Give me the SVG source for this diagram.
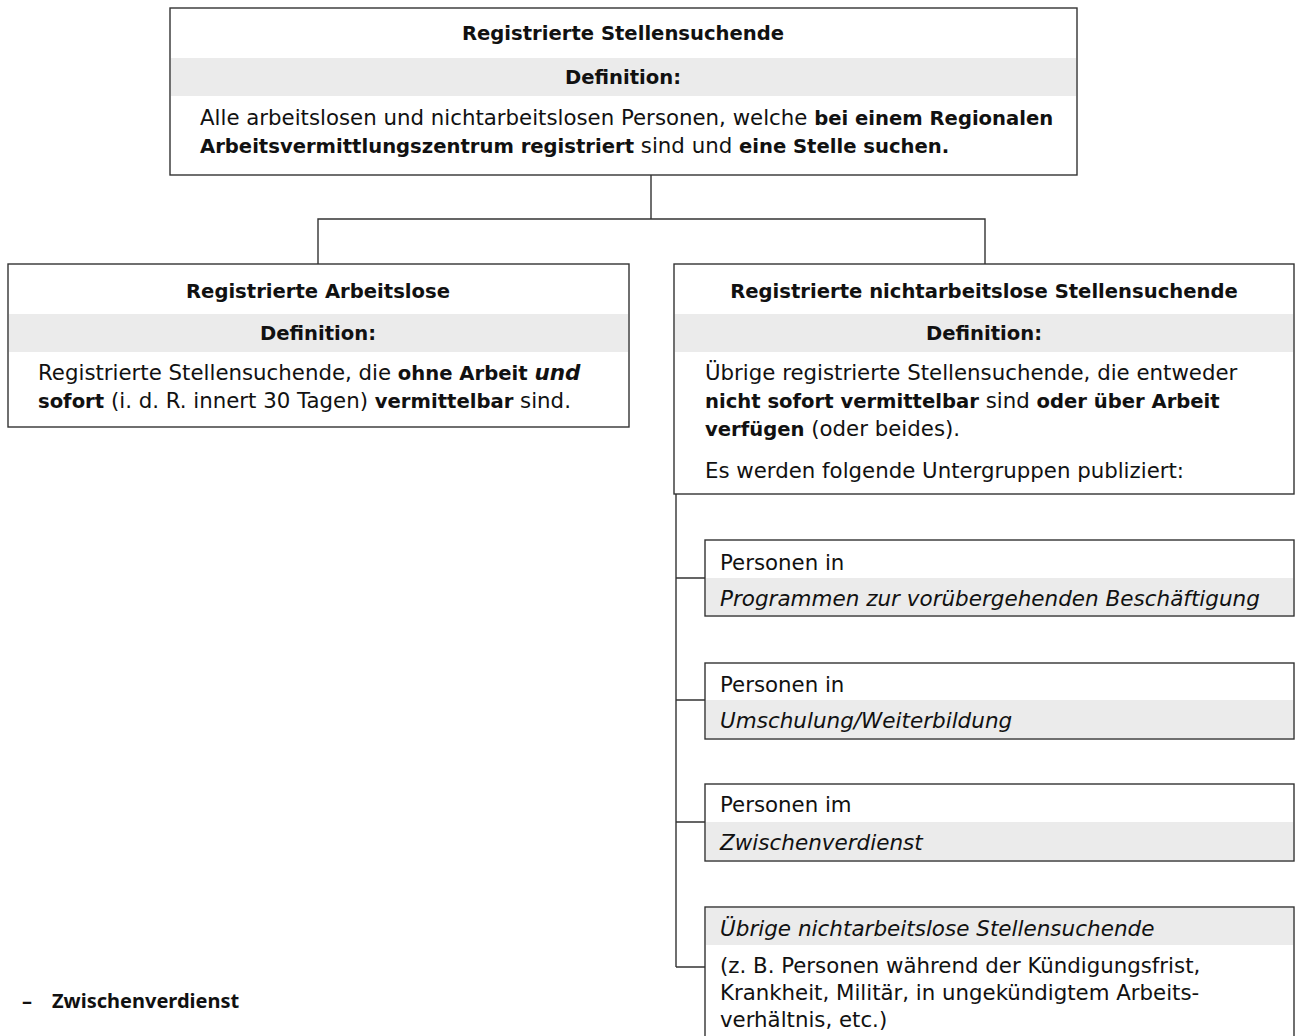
<svg xmlns="http://www.w3.org/2000/svg" width="1300" height="1036" viewBox="0 0 1300 1036">
<style>
text{font-family:"DejaVu Sans","Noto Sans",sans-serif;font-size:21.3px;fill:#111}
.b{font-weight:bold;font-size:19.6px}
.i{font-style:italic;font-size:21.5px}
.c{text-anchor:middle}
.n{font-family:"Noto Sans","Liberation Sans",sans-serif;font-size:20px}
.box{fill:#fff;stroke:#333;stroke-width:1.4}
.band{fill:#ebebeb}
.ln{fill:none;stroke:#333;stroke-width:1.4}
</style>
<rect width="1300" height="1036" fill="#fff"/>
<g id="connectors">
<path class="ln" d="M651,175V219M318,264V219H985V264"/>
<path class="ln" d="M676,494V967M676,578H705M676,700H705M676,822H705M676,967H705"/>
</g>
<g id="top">
<rect class="box" x="170" y="8" width="907" height="167"/>
<rect class="band" x="171" y="58" width="905" height="38"/>
<text class="b c" x="623" y="40">Registrierte Stellensuchende</text>
<text class="b c" x="623" y="84">Definition:</text>
<text x="200" y="125">Alle arbeitslosen und nichtarbeitslosen Personen, welche <tspan class="b">bei einem Regionalen</tspan></text>
<text x="200" y="153"><tspan class="b">Arbeitsvermittlungszentrum registriert</tspan> sind und <tspan class="b">eine Stelle suchen.</tspan></text>
</g>
<g id="left">
<rect class="box" x="8" y="264" width="621" height="163"/>
<rect class="band" x="9" y="314" width="619" height="38"/>
<text class="b c" x="318" y="298">Registrierte Arbeitslose</text>
<text class="b c" x="318" y="340">Definition:</text>
<text x="38" y="380">Registrierte Stellensuchende, die <tspan class="b">ohne Arbeit <tspan class="i">und</tspan></tspan></text>
<text x="38" y="408"><tspan class="b">sofort</tspan> (i. d. R. innert 30 Tagen) <tspan class="b">vermittelbar</tspan> sind.</text>
</g>
<g id="right">
<rect class="box" x="674" y="264" width="620" height="230"/>
<rect class="band" x="675" y="314" width="618" height="38"/>
<text class="b c" x="984" y="298">Registrierte nichtarbeitslose Stellensuchende</text>
<text class="b c" x="984" y="340">Definition:</text>
<text x="705" y="380">Übrige registrierte Stellensuchende, die entweder</text>
<text x="705" y="408"><tspan class="b">nicht sofort vermittelbar</tspan> sind <tspan class="b">oder über Arbeit</tspan></text>
<text x="705" y="436"><tspan class="b">verfügen</tspan> (oder beides).</text>
<text x="705" y="478">Es werden folgende Untergruppen publiziert:</text>
</g>
<g id="sub1">
<rect class="box" x="705" y="540" width="589" height="76"/>
<rect class="band" x="706" y="578" width="587" height="37"/>
<text x="720" y="570">Personen in</text>
<text class="i" x="720" y="606">Programmen zur vorübergehenden Beschäftigung</text>
</g>
<g id="sub2">
<rect class="box" x="705" y="663" width="589" height="76"/>
<rect class="band" x="706" y="700" width="587" height="38"/>
<text x="720" y="692">Personen in</text>
<text class="i" x="720" y="728">Umschulung/Weiterbildung</text>
</g>
<g id="sub3">
<rect class="box" x="705" y="784" width="589" height="77"/>
<rect class="band" x="706" y="822" width="587" height="38"/>
<text x="720" y="812">Personen im</text>
<text class="i" x="720" y="850">Zwischenverdienst</text>
</g>
<g id="sub4">
<rect class="box" x="705" y="907" width="589" height="140"/>
<rect class="band" x="706" y="908" width="587" height="37"/>
<text class="i" x="720" y="936">Übrige nichtarbeitslose Stellensuchende</text>
<text x="720" y="973">(z. B. Personen während der Kündigungsfrist,</text>
<text x="720" y="1000">Krankheit, Militär, in ungekündigtem Arbeits-</text>
<text x="720" y="1027">verhältnis, etc.)</text>
</g>
<g id="note">
<text class="b n" x="22" y="1008">–</text>
<text class="b n" x="52" y="1008">Zwischenverdienst</text>
</g>
</svg>
